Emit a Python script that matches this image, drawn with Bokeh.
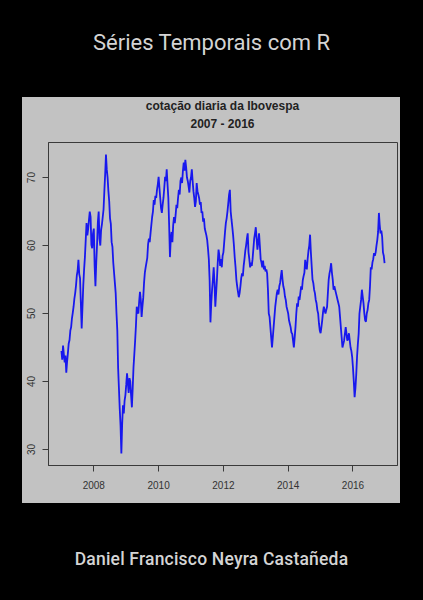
import numpy as np
from bokeh.plotting import figure
from bokeh.models import Range1d, Div, Spacer, FixedTicker
from bokeh.layouts import column, row
from bokeh.embed import file_html
from bokeh.resources import INLINE

book_title = "Séries Temporais com R"
author = "Daniel Francisco Neyra Castañeda"
chart_title = "cotação diaria da Ibovespa"
chart_subtitle = "2007 - 2016"
x_ticks = [2008, 2010, 2012, 2014, 2016]
y_ticks = [30, 40, 50, 60, 70]
start_year = 2007
obs_per_year = 40

ibov_2007 = [44.5, 43.2, 45.3, 44.0, 42.8, 43.8, 41.3, 42.9, 44.2, 45.6,
             46.1, 47.5, 48.0, 49.3, 50.1, 51.0, 52.2, 53.0, 54.1, 55.6,
             56.3, 57.9, 55.8, 55.2, 51.5, 47.8, 51.0, 54.2, 56.5, 58.3,
             60.8, 63.3, 61.5, 62.4, 63.8, 65.0, 64.2, 60.1, 59.6, 61.8]
ibov_2008 = [62.5, 57.0, 54.0, 57.5, 60.2, 63.5, 65.0, 61.0, 60.0, 62.3,
             63.1, 64.2, 65.3, 68.0, 70.5, 73.4, 71.2, 70.0, 68.0, 66.5,
             64.0, 63.2, 60.5, 59.8, 57.5, 56.0, 54.5, 53.0, 50.0, 47.5,
             42.0, 39.0, 36.0, 33.5, 29.4, 33.8, 36.5, 35.3, 37.2, 38.0]
ibov_2009 = [39.5, 41.2, 39.8, 38.3, 40.5, 40.0, 38.0, 36.2, 39.0, 42.1,
             44.0, 46.0, 48.2, 51.0, 50.2, 50.0, 51.8, 53.2, 52.0, 49.5,
             51.0, 52.3, 54.5, 56.0, 56.8, 57.5, 58.2, 60.2, 61.0, 60.5,
             61.8, 63.0, 64.2, 65.0, 66.7, 66.0, 67.3, 67.0, 68.2, 69.0]
ibov_2010 = [70.1, 68.5, 67.0, 65.5, 64.8, 66.0, 67.0, 68.5, 70.1, 69.5,
             71.2, 69.0, 67.0, 63.0, 58.3, 61.0, 62.0, 60.5, 63.0, 64.2,
             63.3, 64.5, 66.0, 65.5, 67.0, 68.2, 67.5, 69.5, 70.0, 69.2,
             71.0, 72.2, 71.0, 72.6, 71.5, 70.0, 69.5, 68.7, 67.8, 69.5]
ibov_2011 = [70.0, 71.2, 69.5, 68.0, 67.0, 65.7, 66.5, 69.2, 68.0, 67.5,
             67.0, 66.0, 66.4, 64.8, 65.0, 63.5, 64.0, 62.5, 62.0, 61.5,
             60.8, 59.5, 58.0, 54.9, 48.7, 51.5, 53.5, 55.0, 56.8, 54.5,
             51.0, 53.0, 55.0, 57.5, 59.4, 58.5, 57.0, 58.0, 56.8, 58.5]
ibov_2012 = [59.0, 60.5, 62.0, 63.3, 64.0, 65.0, 66.2, 67.5, 68.2, 65.0,
             63.8, 62.7, 61.5, 60.0, 58.2, 56.8, 55.0, 54.0, 53.2, 52.4,
             53.0, 54.0, 55.2, 55.9, 55.5, 57.0, 58.0, 59.2, 60.0, 61.0,
             61.8, 59.0, 58.0, 56.8, 57.5, 57.0, 58.0, 59.5, 61.0, 61.8]
ibov_2013 = [62.7, 61.0, 59.4, 60.5, 61.8, 60.0, 58.0, 57.5, 56.8, 57.8,
             56.5, 57.0, 56.2, 56.5, 55.9, 53.5, 50.0, 49.5, 48.0, 46.5,
             45.0, 46.5, 48.0, 49.5, 51.0, 52.0, 53.0, 53.5, 52.8, 54.0,
             54.5, 55.5, 56.4, 55.0, 54.0, 53.5, 52.5, 52.0, 51.0, 50.5]
ibov_2014 = [50.0, 49.0, 48.5, 48.0, 47.2, 47.0, 46.0, 45.0, 46.5, 48.0,
             50.0, 51.5, 51.0, 52.5, 52.0, 53.0, 54.0, 53.5, 54.9, 55.5,
             56.0, 57.9, 57.0, 56.5, 58.0, 59.2, 60.0, 61.6, 59.0, 57.0,
             55.0, 54.5, 53.5, 53.0, 52.0, 51.5, 50.5, 50.0, 48.5, 47.5]
ibov_2015 = [47.1, 48.0, 49.0, 50.2, 51.0, 50.5, 50.0, 50.5, 51.0, 53.0,
             55.0, 55.9, 56.5, 57.4, 56.0, 55.0, 53.5, 54.0, 53.5, 53.0,
             52.5, 52.0, 51.5, 51.0, 49.5, 48.0, 46.5, 45.0, 45.5, 46.0,
             47.0, 48.0, 47.0, 46.0, 46.5, 47.1, 46.0, 45.0, 44.5, 43.6]
ibov_2016 = [42.0, 40.0, 37.7, 39.0, 41.0, 43.6, 45.5, 47.0, 50.0, 51.0,
             52.0, 53.5, 52.5, 51.5, 50.0, 49.0, 48.8, 50.0, 50.5, 51.5,
             52.0, 54.0, 56.8, 56.5, 57.5, 58.0, 58.9, 58.5, 59.0, 60.0,
             60.8, 62.0, 64.8, 63.0, 61.8, 62.2, 61.3, 59.0, 58.5, 57.4]

values = (ibov_2007 + ibov_2008 + ibov_2009 + ibov_2010 + ibov_2011 +
          ibov_2012 + ibov_2013 + ibov_2014 + ibov_2015 + ibov_2016)
t = start_year + np.arange(len(values)) / obs_per_year

GRAY = "#c2c2c2"
FONT = "Liberation Sans"
PANEL_W = 378
TITLE_H = 42
FIG_H = 364
B_LEFT, B_RIGHT, B_TOP, B_BOTTOM = 26, 3, 3, 38

tmin, tmax = float(t.min()), float(t.max())
vmin, vmax = min(values), max(values)
xpad = 0.04 * (tmax - tmin)
ypad = 0.04 * (vmax - vmin)

p = figure(width=PANEL_W, height=FIG_H, output_backend="svg",
           toolbar_location=None,
           x_range=Range1d(tmin - xpad, tmax + xpad),
           y_range=Range1d(vmin - ypad, vmax + ypad),
           background_fill_color=GRAY, border_fill_color=GRAY,
           min_border_left=B_LEFT, min_border_right=B_RIGHT,
           min_border_top=B_TOP, min_border_bottom=B_BOTTOM, margin=0)
p.xgrid.visible = False
p.ygrid.visible = False
p.outline_line_color = "#3a3a3a"
p.outline_line_width = 1

for ax in (p.xaxis[0], p.yaxis[0]):
    ax.axis_line_color = "#3a3a3a"
    ax.major_tick_line_color = "#3a3a3a"
    ax.major_tick_out = 6
    ax.major_tick_in = 0
    ax.minor_tick_out = 0
    ax.minor_tick_in = 0
    ax.major_label_text_font = FONT
    ax.major_label_text_font_size = "10px"
    ax.major_label_text_color = "#333333"
p.xaxis.ticker = FixedTicker(ticks=x_ticks, minor_ticks=[])
p.yaxis.ticker = FixedTicker(ticks=y_ticks, minor_ticks=[])
p.xaxis.major_label_standoff = 9
p.yaxis.major_label_standoff = 7
p.yaxis.major_label_orientation = "vertical"

p.line(t, values, line_color="#1818ee", line_width=1.8)

# chart title, centred over the plotting frame (frame centre is offset by
# (B_LEFT - B_RIGHT) / 2 from the panel centre)
chart_head = Div(
    text=('<div style="width:%dpx;box-sizing:border-box;padding-left:%dpx;'
          'text-align:center;font-family:\'Liberation Sans\';font-size:12px;'
          'font-weight:bold;line-height:18px;color:#222222;">%s<br>%s</div>'
          % (PANEL_W, B_LEFT - B_RIGHT, chart_title, chart_subtitle)),
    width=PANEL_W, height=TITLE_H, margin=0,
    styles={"background-color": GRAY})

head = Div(text=('<div style="width:423px;text-align:center;padding-top:27px;'
                 'font-family:Roboto;font-size:22px;color:#d4d4d4;">'
                 + book_title + '</div>'),
           width=423, height=97, margin=0,
           styles={"background-color": "black"})
foot = Div(text=('<div style="width:423px;text-align:center;padding-top:44px;'
                 'font-family:Roboto;font-size:17.5px;font-weight:500;'
                 'letter-spacing:0.2px;color:#d4d4d4;">' + author + '</div>'),
           width=423, height=97, margin=0,
           styles={"background-color": "black"})
panel = column(chart_head, p, width=PANEL_W, height=TITLE_H + FIG_H,
               styles={"background-color": GRAY})
mid = row(Spacer(width=22, height=406, margin=0), panel,
          Spacer(width=23, height=406, margin=0),
          width=423, height=406, styles={"background-color": "black"})
page = column(head, mid, foot, width=423, height=600,
              styles={"background-color": "black"})

open("out.html", "w").write(file_html(page, INLINE))
